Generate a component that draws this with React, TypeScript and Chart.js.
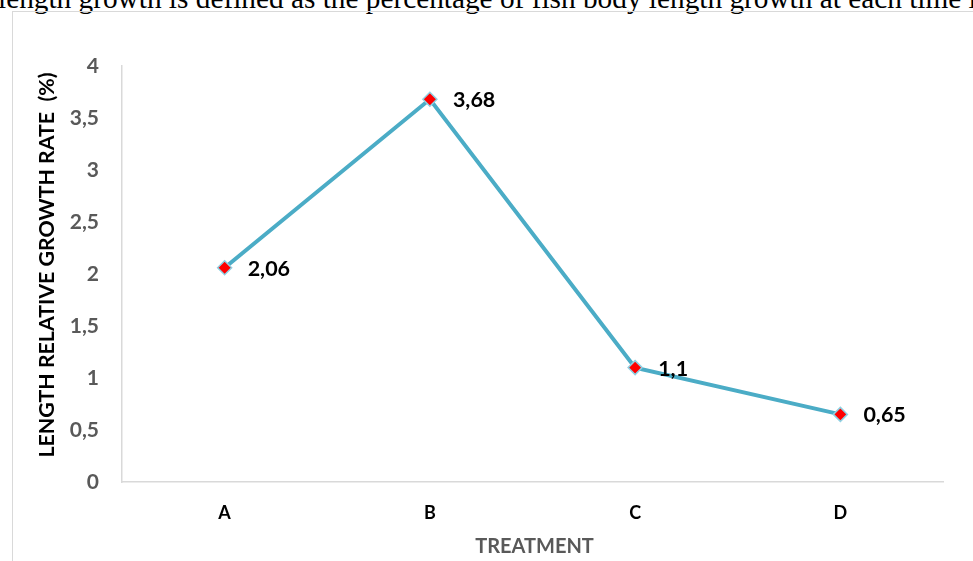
import React, { useEffect, useRef } from "react";
import { Chart, registerables } from "chart.js";

Chart.register(...registerables);

const categories = ["A", "B", "C", "D"];
const growthRate = [2.06, 3.68, 1.1, 0.65];
const yTickMin = 0;
const yTickMax = 4;
const yTickStep = 0.5;
const xTitle = "TREATMENT";
const yTitle = "LENGTH RELATIVE GROWTH RATE  (%)";
const captionText =
  "length growth is defined as the percentage of fish body length growth at each time i";

const FONT = "Lato, 'Open Sans', sans-serif";
const fmt = (v: number) => String(v).replace(".", ",");

const labelsPlugin = {
  id: "customLabels",
  afterDraw(chart: any) {
    const { ctx, chartArea } = chart;
    ctx.save();
    // data labels
    const meta = chart.getDatasetMeta(0);
    ctx.font = `bold 21.5px ${FONT}`;
    ctx.fillStyle = "#000000";
    ctx.textAlign = "left";
    ctx.textBaseline = "middle";
    meta.data.forEach((pt: any, i: number) => {
      ctx.fillText(fmt(growthRate[i]), pt.x + 23, pt.y + 1);
    });
    // x title
    ctx.font = `bold 20px ${FONT}`;
    ctx.fillStyle = "#595959";
    ctx.textAlign = "center";
    ctx.textBaseline = "middle";
    ctx.fillText(xTitle, (chartArea.left + chartArea.right) / 2 + 2, chartArea.bottom + 65);
    // y title
    ctx.translate(chartArea.left - 75, (chartArea.top + chartArea.bottom) / 2 - 9);
    ctx.rotate(-Math.PI / 2);
    ctx.font = `bold 21.3px ${FONT}`;
    ctx.fillStyle = "#000000";
    ctx.fillText(yTitle, 0, 0);
    ctx.restore();
  },
};

function LineChart() {
  const canvasRef = useRef<HTMLCanvasElement | null>(null);
  useEffect(() => {
    if (!canvasRef.current) return;
    const chart = new Chart(canvasRef.current, {
      type: "line",
      data: {
        labels: categories,
        datasets: [
          {
            data: growthRate,
            borderColor: "#4bacc6",
            borderWidth: 4,
            pointStyle: "rectRot",
            pointRadius: 7,
            pointBackgroundColor: "#ff0000",
            pointBorderColor: "#8fd0e2",
            pointBorderWidth: 1.5,
            tension: 0,
          },
        ],
      },
      options: {
        animation: false,
        responsive: true,
        maintainAspectRatio: false,
        layout: { padding: { top: 54, right: 30, left: 0, bottom: 0 } },
        plugins: { legend: { display: false }, tooltip: { enabled: false } },
        scales: {
          x: {
            offset: true,
            grid: { display: false, drawTicks: false },
            border: { display: true, color: "#d9d9d9", width: 1.5 },
            ticks: {
              color: "#000000",
              font: { family: FONT, weight: "bold", size: 18 },
              padding: 20,
            },
            afterFit: (scale: any) => {
              scale.height = 79;
            },
          },
          y: {
            min: yTickMin,
            max: yTickMax,
            grid: { display: false, drawTicks: false },
            border: { display: true, color: "#d9d9d9", width: 1.5 },
            ticks: {
              stepSize: yTickStep,
              color: "#595959",
              font: { family: FONT, weight: "bold", size: 21 },
              padding: 23,
              callback: (v: any) => fmt(Number(v)),
            },
            afterFit: (scale: any) => {
              scale.width = 109;
            },
          },
        },
      } as any,
      plugins: [labelsPlugin],
    });
    return () => chart.destroy();
  }, []);
  return <canvas ref={canvasRef} />;
}

export default function App() {
  return (
    <div
      style={{
        position: "fixed",
        inset: 0,
        overflow: "hidden",
        background: "#ffffff",
      }}
    >
      <div
        style={{
          position: "absolute",
          left: -2,
          top: -16.5,
          fontFamily: "'Liberation Serif', 'Times New Roman', serif",
          fontSize: 29.3,
          lineHeight: 1,
          whiteSpace: "nowrap",
          color: "#000",
        }}
      >
        {captionText}
      </div>
      <div
        style={{
          position: "absolute",
          left: 12,
          top: 11,
          width: 1000,
          height: 620,
          border: "1.5px solid #d9d9d9",
          boxSizing: "border-box",
        }}
      />
      <div style={{ position: "absolute", left: 13, top: 12, width: 960, height: 549 }}>
        <LineChart />
      </div>
    </div>
  );
}
